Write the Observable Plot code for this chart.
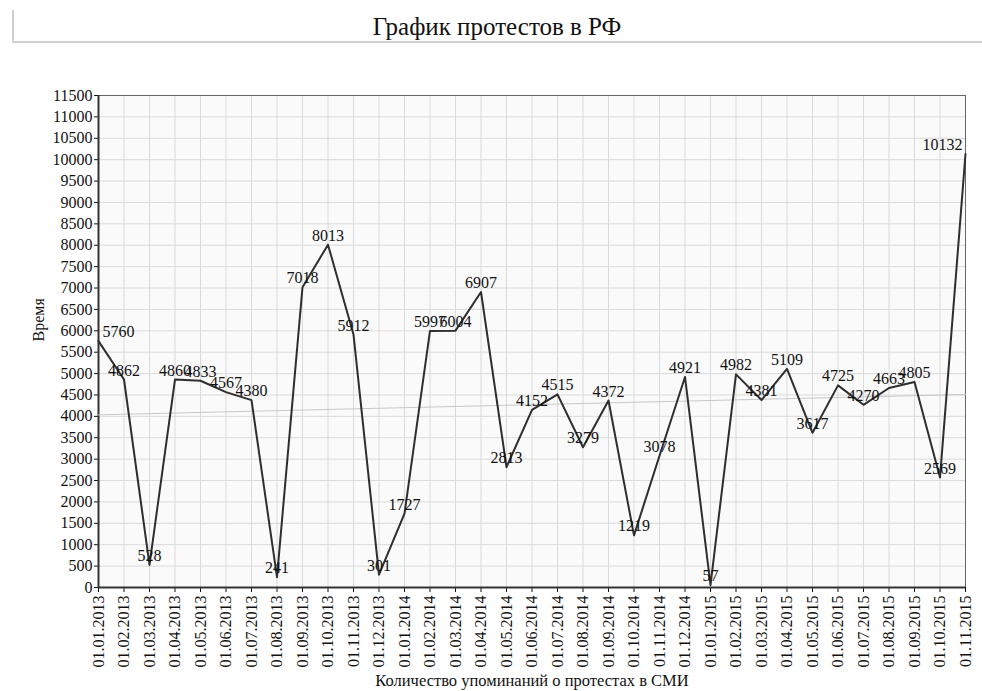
<!DOCTYPE html>
<html><head><meta charset="utf-8">
<script src="https://cdn.jsdelivr.net/npm/d3@7"></script>
<script src="https://cdn.jsdelivr.net/npm/@observablehq/plot@0.6"></script>
<style>
body{margin:0;background:#fff;font-family:"Liberation Serif",serif;}
#title{position:relative;height:50px;}
#title .box{position:absolute;left:12px;top:10px;right:0;height:31px;border-left:2px solid #d0d0d0;border-bottom:2px solid #d0d0d0;}
#title .t{position:absolute;left:12px;right:0;top:13px;text-align:center;font-size:25px;color:#111;line-height:28px;font-family:"Liberation Serif",serif;}
#chart svg{display:block;}
#chart svg, #chart svg text{font-family:"Liberation Serif",serif !important;}
</style></head>
<body>
<div id="title"><div class="box"></div><div class="t">График протестов в РФ</div></div>
<div id="chart"></div>
<script>
const months = ["01.01.2013","01.02.2013","01.03.2013","01.04.2013","01.05.2013","01.06.2013","01.07.2013","01.08.2013","01.09.2013","01.10.2013","01.11.2013","01.12.2013",
"01.01.2014","01.02.2014","01.03.2014","01.04.2014","01.05.2014","01.06.2014","01.07.2014","01.08.2014","01.09.2014","01.10.2014","01.11.2014","01.12.2014",
"01.01.2015","01.02.2015","01.03.2015","01.04.2015","01.05.2015","01.06.2015","01.07.2015","01.08.2015","01.09.2015","01.10.2015","01.11.2015"];
const mentions = [5760,4862,528,4860,4833,4567,4380,241,7018,8013,5912,301,1727,5997,6004,6907,2813,4152,4515,3279,4372,1219,3078,4921,57,4982,4381,5109,3617,4725,4270,4663,4805,2569,10132];
const yTicks = d3.range(0, 11501, 500);
const xLabel = "Количество упоминаний о протестах в СМИ";
const yLabel = "Время";

const data = months.map((m, i) => ({i, month: m, value: mentions[i]}));
const last = data.length - 1;
const idx = d3.range(months.length);
const ff = "Liberation Serif";

const chart = Plot.plot({
  width: 982, height: 641,
  marginTop: 45, marginLeft: 98, marginRight: 17, marginBottom: 104,
  style: {fontFamily: ff, fontSize: "16px", color: "#111", background: "#fff"},
  x: {type: "linear", domain: [0, last]},
  y: {domain: [0, 11500]},
  marks: [
    Plot.frame({fill: "#fafafa"}),
    Plot.gridX(idx, {stroke: "#dadada", strokeOpacity: 1}),
    Plot.gridY(yTicks, {stroke: "#dadada", strokeOpacity: 1}),
    Plot.frame({stroke: "#666"}),
    Plot.axisY(yTicks, {tickSize: 4, tickPadding: 2, tickFormat: d => String(d), label: null, fontSize: 16, fontFamily: ff}),
    Plot.axisX(idx, {tickSize: 5, tickPadding: 3, tickRotate: -90, tickFormat: i => months[i], label: null, fontSize: 16, fontFamily: ff}),
    Plot.ruleX([0], {stroke: "#333", strokeWidth: 2}),
    Plot.ruleY([0], {stroke: "#333", strokeWidth: 2}),
    Plot.linearRegressionY(data, {x: "i", y: "value", stroke: "#c8c8c8", strokeWidth: 1, ci: 0}),
    Plot.line(data, {x: "i", y: "value", stroke: "#2e2e2e", strokeWidth: 2}),
    Plot.text(data.filter(d => d.i > 0 && d.i < last), {x: "i", y: "value", text: d => String(d.value), dy: -9, fontSize: 16, fontFamily: ff, fill: "#111"}),
    Plot.text(data.filter(d => d.i === 0), {x: "i", y: "value", text: d => String(d.value), dy: -9, dx: 4, textAnchor: "start", fontSize: 16, fontFamily: ff, fill: "#111"}),
    Plot.text(data.filter(d => d.i === last), {x: "i", y: "value", text: d => String(d.value), dy: -9, dx: -3, textAnchor: "end", fontSize: 16, fontFamily: ff, fill: "#111"}),
    Plot.text([xLabel], {frameAnchor: "bottom", dy: 98, fontSize: 16.5, fontFamily: ff, fill: "#111"}),
    Plot.text([yLabel], {frameAnchor: "left", dx: -60, rotate: -90, fontSize: 16, fontFamily: ff, fill: "#111"})
  ]
});
document.getElementById("chart").appendChild(chart);
</script>
</body></html>
